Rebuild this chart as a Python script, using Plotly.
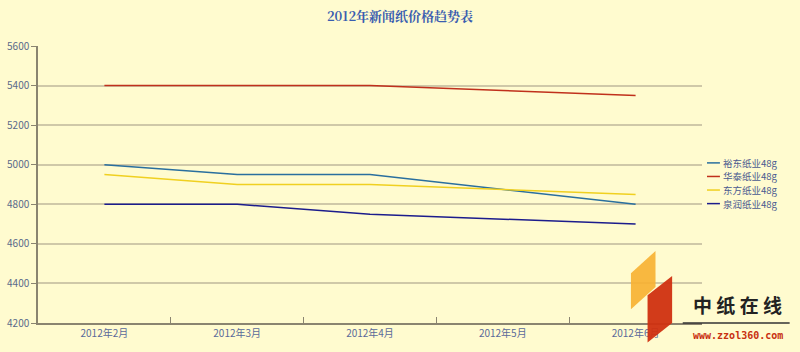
import plotly.graph_objects as go

categories = ["2012年2月", "2012年3月", "2012年4月", "2012年5月", "2012年6月"]
yudong = [5000, 4950, 4950, 4875, 4800]
huatai = [5400, 5400, 5400, 5375, 5350]
dongfang = [4950, 4900, 4900, 4875, 4850]
quanrun = [4800, 4800, 4750, 4725, 4700]
series_names = ["裕东纸业48g", "华泰纸业48g", "东方纸业48g", "泉润纸业48g"]
series_values = [yudong, huatai, dongfang, quanrun]
series_colors = ["#2a6f9e", "#c0301c", "#f0d020", "#1c1c8c"]

BG = "#fffbcf"
fig = go.Figure()
for name, vals, col in zip(series_names, series_values, series_colors):
    fig.add_trace(go.Scatter(x=categories, y=vals, name=name, mode="lines",
                             line=dict(color=col, width=1.5), showlegend=False))

fig.update_layout(
    width=800, height=352,
    paper_bgcolor=BG, plot_bgcolor=BG,
    margin=dict(l=38, r=98, t=46, b=29, autoexpand=False),
    title=dict(text="<b>2012年新闻纸价格趋势表</b>", x=0.5, xanchor="center", y=0.953, yanchor="middle",
               font=dict(family="Noto Serif CJK SC, Liberation Serif, serif", size=13, color="#3a5db0")),
    font=dict(family="Noto Sans CJK SC", size=10, color="#5a6a8a"),
    showlegend=False,
)
fig.update_xaxes(type="category", range=[-0.5, 4.5], showgrid=False,
                 showline=True, linecolor="#8a8470", linewidth=1.5,
                 ticks="inside", tickson="boundaries", ticklen=6, tickcolor="#8a8470",
                 tickfont=dict(size=10, color="#5a6a9a"))
fig.update_yaxes(range=[4200, 5600], dtick=200, showgrid=True, gridcolor="#cfc8a8", gridwidth=1.5,
                 showline=True, linecolor="#8a8470", linewidth=1.5, zeroline=False,
                 ticks="outside", ticklen=5, tickcolor="#8a8470",
                 tickfont=dict(size=10, color="#5a6a8a"))

# legend (drawn manually for tight spacing)
legend_y = [0.578, 0.529, 0.480, 0.431]
for name, col, ly in zip(series_names, series_colors, legend_y):
    fig.add_shape(type="line", xref="paper", yref="paper", x0=1.0075, x1=1.027, y0=ly, y1=ly,
                  line=dict(color=col, width=1.5))
    fig.add_annotation(text=name, xref="paper", yref="paper", x=1.030, y=ly, xanchor="left",
                       yanchor="middle", showarrow=False, borderpad=0,
                       font=dict(family="Noto Sans CJK SC", size=9.5, color="#4a5a90"))

# watermark
fig.add_shape(type="path", xref="paper", yref="paper",
              path="M 0.893 0.05 L 0.930 0.13 L 0.930 0.26 L 0.893 0.18 Z",
              fillcolor="#f7b030", line=dict(width=0), opacity=0.9)
fig.add_shape(type="path", xref="paper", yref="paper",
              path="M 0.918 -0.07 L 0.955 0.0 L 0.955 0.17 L 0.918 0.10 Z",
              fillcolor="#d03010", line=dict(width=0), opacity=0.95)
fig.add_annotation(text="<b>中 纸 在 线</b>", xref="paper", yref="paper", x=1.054, y=0.065, xanchor="center",
                   yanchor="middle", showarrow=False,
                   font=dict(family="Noto Sans CJK SC", size=19, color="#222222"))
fig.add_shape(type="line", xref="paper", yref="paper", x0=0.971, x1=1.132, y0=0.0, y1=0.0,
              line=dict(color="#333333", width=1.5))
fig.add_annotation(text="<b>www.zzol360.com</b>", xref="paper", yref="paper", x=1.054, y=-0.045, xanchor="center",
                   yanchor="middle", showarrow=False,
                   font=dict(family="DejaVu Sans Mono", size=10, color="#c83010"))

fig.write_html("out.html")
